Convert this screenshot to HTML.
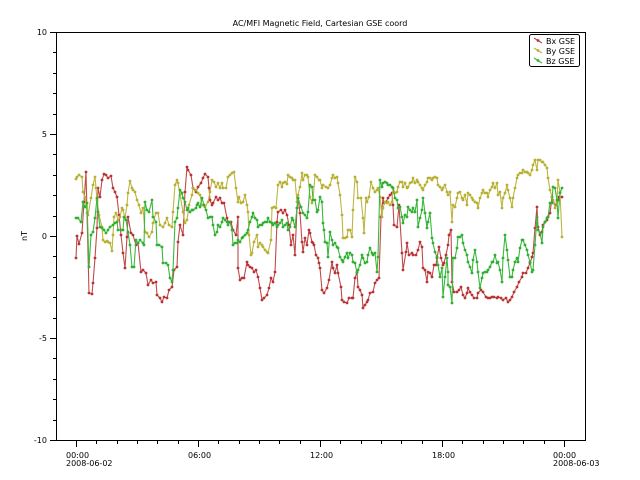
<!DOCTYPE html>
<html><head><meta charset="utf-8"><style>
html,body{margin:0;padding:0;background:#fff;}
svg{display:block;font-family:"DejaVu Sans","Liberation Sans",sans-serif;}
</style></head><body>
<svg width="640" height="480" viewBox="0 0 640 480" xmlns="http://www.w3.org/2000/svg">
<defs>
<marker id="mr" markerUnits="userSpaceOnUse" markerWidth="4" markerHeight="4" refX="2" refY="2"><circle cx="2" cy="2" r="1.4" fill="#b83434"/></marker>
<marker id="my" markerUnits="userSpaceOnUse" markerWidth="4" markerHeight="4" refX="2" refY="2"><circle cx="2" cy="2" r="1.4" fill="#b8b030"/></marker>
<marker id="mg" markerUnits="userSpaceOnUse" markerWidth="4" markerHeight="4" refX="2" refY="2"><circle cx="2" cy="2" r="1.4" fill="#30b030"/></marker>
</defs>
<text x="320" y="26" font-size="8" text-anchor="middle">AC/MFI  Magnetic Field, Cartesian GSE coord</text>
<g stroke="#000" stroke-width="1" fill="none">
<rect x="56.5" y="32.5" width="529" height="408"/>
<path d="M50 32.5H56M50 134.5H56M50 236.5H56M50 338.5H56M50 440.5H56"/>
<path d="M53 52.5H56M53 73.5H56M53 93.5H56M53 114.5H56M53 154.5H56M53 175.5H56M53 195.5H56M53 216.5H56M53 256.5H56M53 277.5H56M53 297.5H56M53 318.5H56M53 358.5H56M53 379.5H56M53 399.5H56M53 420.5H56"/>
<path d="M76.5 441V447M198.5 441V447M320.5 441V447M442.5 441V447M564.5 441V447"/>
<path d="M96.5 441V444M117.5 441V444M137.5 441V444M157.5 441V444M178.5 441V444M218.5 441V444M239.5 441V444M259.5 441V444M279.5 441V444M300.5 441V444M340.5 441V444M361.5 441V444M381.5 441V444M401.5 441V444M422.5 441V444M462.5 441V444M483.5 441V444M503.5 441V444M523.5 441V444M544.5 441V444"/>
</g>
<g font-size="8" text-anchor="end">
<text x="47" y="35">10</text><text x="47" y="137">5</text><text x="47" y="239">0</text><text x="47" y="341">-5</text><text x="47" y="443">-10</text>
</g>
<text transform="translate(27,236) rotate(-90)" font-size="8" text-anchor="middle">nT</text>
<g font-size="8">
<text x="66" y="458">00:00</text><text x="66" y="466">2008-06-02</text>
<text x="188" y="458">06:00</text>
<text x="310" y="458">12:00</text>
<text x="432" y="458">18:00</text>
<text x="553" y="458">00:00</text><text x="553" y="466">2008-06-03</text>
</g>
<g fill="none" stroke-width="1.1" stroke-linejoin="round">
<polyline stroke="#c04a4a" marker-start="url(#mr)" marker-mid="url(#mr)" marker-end="url(#mr)" points="76,258 77,236 79,244 82,233 84,202 86,172 89,293 92,294 93,283 95,258 97,228 98,188 100,197 102,180 104,174 106,175 108,178 111,176 113,188 115,192 117,197 119,215 121,235 123,253 125,268 127,237 128,217 131,233 133,235 136,245 138,243 141,272 143,270 146,273 148,285 151,280 153,283 156,282 157,295 160,298 162,302 164,297 167,298 169,290 172,287 174,270 177,267 178,242 180,225 183,235 185,192 187,167 188,170 191,175 193,188 196,192 198,187 201,183 203,178 205,174 208,177 209,188 210,200 212,205 213,203 216,197 218,200 220,198 222,203 224,203 227,218 228,222 231,222 233,230 236,235 238,217 238,268 240,280 242,278 244,278 247,262 248,265 250,267 252,268 254,272 256,270 258,277 260,288 262,300 264,298 267,295 269,288 271,278 273,282 275,272 277,222 278,212 281,210 283,213 285,210 287,215 289,225 291,245 293,235 295,255 297,208 298,198 300,213 302,242 303,252 305,238 307,245 309,230 310,233 312,242 313,243 314,245 316,255 318,258 319,263 320,268 322,290 324,293 327,288 329,280 332,262 333,268 335,273 337,265 338,273 341,287 342,300 344,302 347,303 349,298 352,298 353,298 355,278 357,272 358,287 360,290 362,295 363,308 365,305 367,302 368,300 370,293 373,292 375,283 377,280 379,278 381,217 383,198 384,203 386,202 388,198 390,195 392,193 393,205 394,225 397,227 399,205 402,253 403,270 406,252 407,243 409,255 412,253 413,255 416,255 418,250 420,242 422,247 423,268 425,270 427,282 428,272 430,273 432,277 434,265 436,265 437,258 439,247 441,258 443,265 444,263 446,255 448,245 449,235 451,230 452,282 454,292 457,292 459,290 461,287 463,295 465,298 467,293 468,288 470,292 472,295 474,298 477,298 478,293 481,290 483,292 486,297 488,298 490,298 492,297 494,297 497,298 498,297 501,298 503,300 506,298 508,302 510,300 512,297 514,292 517,287 519,282 522,277 523,273 526,273 528,268 530,263 532,257 533,253 535,228 537,207 538,227 540,235 542,232 543,225 545,222 547,220 548,217 550,213 552,197 553,202 556,205 558,200 559,197 562,197"/>
<polyline stroke="#bdb545" marker-start="url(#my)" marker-mid="url(#my)" marker-end="url(#my)" points="76,179 77,177 79,175 82,177 83,192 85,197 87,213 88,215 91,198 93,185 95,177 96,188 97,200 99,215 102,227 103,240 105,242 107,241 108,242 110,243 112,251 113,235 114,217 116,213 118,220 120,217 122,208 123,210 125,218 127,205 128,193 130,181 132,188 133,190 135,192 137,200 139,205 141,213 143,208 145,232 147,233 149,237 152,232 153,223 156,213 158,213 160,225 163,227 165,223 167,218 169,225 172,227 173,212 175,185 177,180 178,183 180,195 183,212 185,223 187,220 189,205 192,195 193,188 196,190 198,193 200,195 202,205 205,207 208,202 210,192 212,180 214,182 216,187 218,183 220,188 222,183 223,188 226,188 228,177 230,175 232,173 234,172 236,188 238,202 239,197 241,203 243,202 245,195 247,205 248,212 249,235 251,255 252,253 254,242 257,235 258,247 260,243 262,245 263,247 265,250 267,252 268,253 271,240 272,208 274,207 276,208 278,185 280,182 282,187 283,183 285,182 287,184 288,175 290,177 292,178 293,180 295,180 297,202 298,195 300,187 302,173 303,180 305,175 307,175 308,177 310,197 312,203 313,200 315,175 317,177 319,180 320,180 322,188 323,185 326,187 328,188 330,185 332,178 333,175 335,178 337,177 338,183 340,195 342,215 343,238 345,238 347,237 348,230 350,230 352,237 353,210 355,177 357,182 358,198 361,198 363,218 364,233 366,198 367,202 369,197 371,182 373,188 375,192 377,190 378,188 380,197 382,217 383,208 385,202 387,203 388,202 390,205 392,202 393,188 395,193 397,192 398,187 400,182 402,182 403,187 405,183 407,188 408,187 410,183 412,182 413,178 415,183 417,180 418,182 420,185 422,188 423,190 425,185 427,182 428,178 430,178 432,180 433,178 435,177 437,178 438,185 440,187 442,190 443,188 445,185 447,192 448,195 450,192 452,222 453,205 455,207 457,198 458,193 460,192 462,198 463,200 465,195 467,205 468,193 470,195 472,198 473,200 475,202 477,203 478,208 480,198 482,193 483,190 485,193 487,193 488,197 490,190 492,187 493,183 495,188 497,183 498,195 500,192 502,208 503,198 505,193 507,185 508,190 510,198 512,207 513,198 515,188 517,178 518,175 520,173 522,173 523,170 525,172 527,172 528,173 530,175 532,170 533,165 535,160 537,170 538,160 540,160 542,162 543,162 545,165 547,168 548,178 550,190 552,197 553,200 555,208 557,202 558,180 560,192 562,237"/>
<polyline stroke="#3cb83c" marker-start="url(#mg)" marker-mid="url(#mg)" marker-end="url(#mg)" points="76,218 78,218 81,222 83,202 85,207 87,203 89,267 91,235 93,232 95,218 97,198 98,212 100,227 102,228 104,230 106,233 108,230 110,227 113,225 115,223 117,222 118,230 121,230 123,230 124,217 126,220 128,232 130,245 132,267 134,267 136,240 138,243 140,240 143,243 144,245 145,202 147,210 149,212 152,200 153,217 156,222 157,245 159,245 162,247 163,263 166,263 168,265 170,278 172,282 173,270 175,222 177,218 178,208 180,190 182,193 183,198 185,202 187,210 188,208 190,212 192,210 193,210 196,208 197,205 198,203 200,207 202,198 204,205 206,210 208,218 210,217 212,217 213,225 215,235 217,232 218,225 220,227 222,222 223,218 225,220 227,222 228,225 230,222 232,230 233,245 235,243 237,243 238,240 240,242 242,238 243,237 245,235 247,233 248,230 250,222 252,217 253,213 255,218 257,220 258,227 260,225 262,225 263,223 265,222 267,222 268,218 270,222 272,223 273,225 275,223 277,227 278,225 280,223 282,220 283,227 285,225 287,223 288,230 290,227 292,218 293,220 295,227 297,208 298,198 301,207 303,213 305,215 307,218 308,212 310,185 312,187 313,200 315,200 317,212 318,210 320,197 322,202 323,223 324,230 325,242 327,243 328,257 330,232 332,240 333,245 335,243 337,247 338,248 340,257 342,260 343,262 345,257 347,253 348,258 350,253 352,255 353,262 355,263 357,273 358,270 360,265 362,255 363,258 365,263 367,262 368,255 370,248 372,253 373,255 375,253 377,272 378,257 380,180 382,187 383,183 385,182 387,183 388,185 390,185 392,187 393,188 395,198 397,200 398,208 400,207 402,217 403,223 405,215 407,217 408,207 410,210 412,212 413,208 415,212 417,200 418,227 420,218 422,210 423,198 425,213 427,228 428,222 430,213 432,238 433,243 435,252 437,257 438,265 440,277 442,268 443,297 445,277 447,258 448,272 448,285 450,287 452,303 453,258 455,258 457,248 458,237 460,237 462,235 463,243 465,250 467,255 468,262 470,267 472,273 473,260 475,250 477,262 478,272 480,288 482,278 483,273 485,272 487,272 488,270 490,267 492,262 493,262 495,255 497,263 498,262 500,270 502,282 503,258 505,235 507,250 508,260 510,277 512,277 513,270 515,262 517,258 518,262 520,248 522,240 523,240 525,245 527,250 528,255 530,262 532,272 533,270 535,245 537,217 538,230 540,233 542,243 543,227 545,222 547,218 548,217 550,203 552,203 553,187 555,188 557,200 558,218 560,193 562,188"/>
</g>
<rect x="529.5" y="34.5" width="50" height="32" rx="2" fill="#fff" stroke="#000" stroke-width="1"/>
<g stroke-width="1.1">
<line x1="534" y1="38" x2="542" y2="43" stroke="#c04a4a"/><circle cx="538" cy="40.5" r="1.4" fill="#b83434"/>
<line x1="534" y1="48" x2="542" y2="53" stroke="#bdb545"/><circle cx="538" cy="50.5" r="1.4" fill="#b8b030"/>
<line x1="534" y1="58" x2="542" y2="63" stroke="#3cb83c"/><circle cx="538" cy="60.5" r="1.4" fill="#30b030"/>
</g>
<g font-size="8">
<text x="546" y="44">Bx GSE</text>
<text x="546" y="54">By GSE</text>
<text x="546" y="64">Bz GSE</text>
</g>
</svg>
</body></html>
